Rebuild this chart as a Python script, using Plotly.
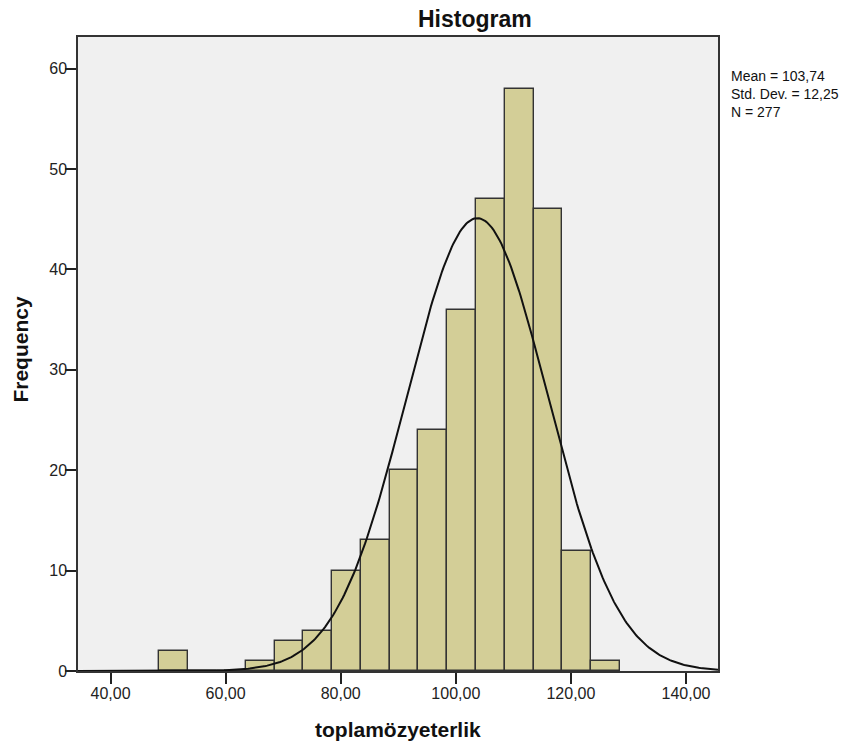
import numpy as np
import plotly.graph_objects as go

# ---- data ----
bin_start = 48.5
bin_width = 5.0
counts = [2, 0, 0, 1, 3, 4, 10, 13, 20, 24, 36, 47, 58, 46, 12, 1]
mean_val = 103.74
sd_val = 12.25
n_val = 277
x_tick_vals = [40, 60, 80, 100, 120, 140]
x_tick_text = ["40,00", "60,00", "80,00", "100,00", "120,00", "140,00"]
y_tick_vals = [0, 10, 20, 30, 40, 50, 60]
stats_lines = ["Mean = 103,74", "Std. Dev. = 12,25", "N = 277"]

x_range = [34.35, 145.56]
y_range = [0, 63.15]

centers = [bin_start + bin_width * (i + 0.5) for i in range(len(counts))]

# fitted normal curve from the reported statistics
xc = np.linspace(x_range[0], x_range[1], 400)
yc = n_val * bin_width / (sd_val * np.sqrt(2 * np.pi)) * np.exp(-0.5 * ((xc - mean_val) / sd_val) ** 2)

fig = go.Figure()
fig.add_trace(go.Bar(
    x=centers, y=counts, width=bin_width,
    marker=dict(color="#D3CE97", line=dict(color="#333333", width=1.4)),
    hoverinfo="x+y", showlegend=False,
))
fig.add_trace(go.Scatter(
    x=xc, y=yc, mode="lines",
    line=dict(color="#111111", width=2), showlegend=False, hoverinfo="skip",
))

font_family = "Liberation Sans, Arial, sans-serif"

fig.update_layout(
    width=863, height=745,
    margin=dict(l=78, r=145, t=37, b=74),
    paper_bgcolor="white",
    plot_bgcolor="#F0F0F0",
    font=dict(family=font_family, color="#222222"),
    bargap=0,
    xaxis=dict(
        range=x_range, tickvals=x_tick_vals, ticktext=x_tick_text,
        ticks="outside", ticklen=11, tickwidth=1.5, tickcolor="#222222",
        ticklabelstandoff=-4,
        showline=True, linecolor="#333333", linewidth=1.5, mirror=True,
        showgrid=False, zeroline=False,
        tickfont=dict(size=16, family=font_family, color="#222222"),
    ),
    yaxis=dict(
        range=y_range, tickvals=y_tick_vals,
        ticks="outside", ticklen=11, tickwidth=1.5, tickcolor="#222222",
        ticklabelstandoff=-5,
        showline=True, linecolor="#333333", linewidth=1.5, mirror=True,
        showgrid=False, zeroline=False,
        tickfont=dict(size=16, family=font_family, color="#222222"),
    ),
    annotations=[
        dict(text="<b>Histogram</b>", xref="paper", yref="paper", x=0.620, y=1.029,
             xanchor="center", yanchor="middle", showarrow=False,
             font=dict(size=23, family=font_family, color="#111111")),
        dict(text="<b>Frequency</b>", xref="paper", yref="paper", x=-0.089, y=0.507,
             xanchor="center", yanchor="middle", showarrow=False, textangle=-90,
             font=dict(size=21, family=font_family, color="#111111")),
        dict(text="<b>toplamözyeterlik</b>", xref="paper", yref="paper", x=0.5, y=-0.092,
             xanchor="center", yanchor="middle", showarrow=False,
             font=dict(size=21, family=font_family, color="#111111")),
        dict(text="<br>".join(stats_lines), xref="paper", yref="paper", x=1.017, y=0.9096,
             xanchor="left", yanchor="middle", align="left", showarrow=False,
             font=dict(size=14, family=font_family, color="#111111")),
    ],
)

fig.write_html("out.html", config={"displayModeBar": False})

# remove the default page margin so the figure sits at the window's top-left corner
with open("out.html", "r", encoding="utf-8") as f:
    html = f.read()
html = html.replace("<head>", "<head><style>html,body{margin:0;padding:0;overflow:hidden;}</style>", 1)
with open("out.html", "w", encoding="utf-8") as f:
    f.write(html)
